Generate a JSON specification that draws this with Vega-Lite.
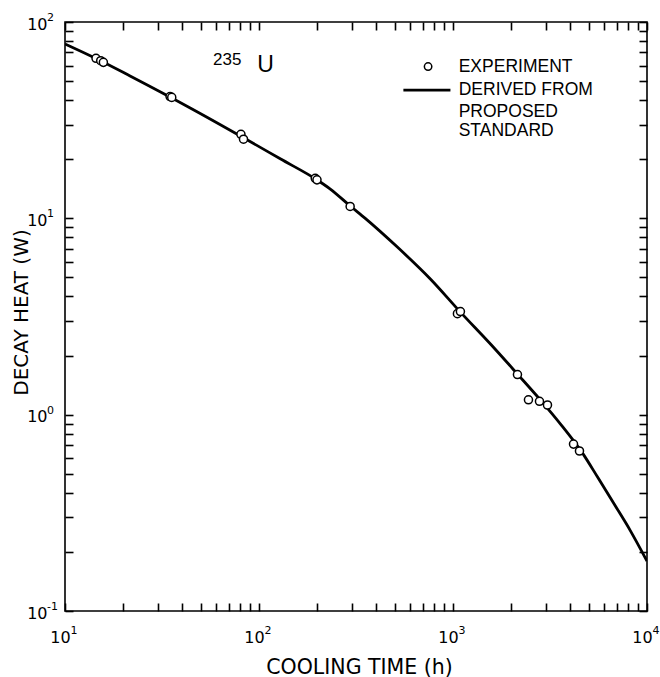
{
  "$schema": "https://vega.github.io/schema/vega-lite/v6.json",
  "width": 582,
  "height": 589,
  "autosize": {"type": "none"},
  "padding": {"left": 65, "top": 22, "right": 13, "bottom": 66},
  "background": "white",
  "view": {"stroke": "black", "strokeWidth": 1.6},
  "datasets": {
    "curve": [
      {"t": 10, "q": 77.3}, {"t": 14.63, "q": 64.8}, {"t": 21.65, "q": 53.1}, {"t": 44.2, "q": 36.5},
      {"t": 81.9, "q": 25.96}, {"t": 128.7, "q": 20.1}, {"t": 199.7, "q": 15.67}, {"t": 233.1, "q": 14.1},
      {"t": 295.5, "q": 11.55}, {"t": 353, "q": 10.0}, {"t": 516.6, "q": 7.14}, {"t": 764.4, "q": 4.91}, {"t": 1092, "q": 3.33},
      {"t": 1560, "q": 2.29}, {"t": 2149, "q": 1.61}, {"t": 2825, "q": 1.187}, {"t": 3583, "q": 0.896},
      {"t": 4653, "q": 0.637}, {"t": 5561, "q": 0.481}, {"t": 6724, "q": 0.3546}, {"t": 8230, "q": 0.2553},
      {"t": 10000, "q": 0.1795}
    ],
    "experiment": [
      {"t": 14.45, "q": 65.3}, {"t": 15.28, "q": 63.5}, {"t": 15.77, "q": 62.3},
      {"t": 34.8, "q": 41.7}, {"t": 35.5, "q": 41.3},
      {"t": 80.7, "q": 26.8}, {"t": 83.2, "q": 25.3},
      {"t": 195, "q": 16.0}, {"t": 199, "q": 15.7},
      {"t": 295, "q": 11.5},
      {"t": 1054, "q": 3.27}, {"t": 1092, "q": 3.35},
      {"t": 2149, "q": 1.60}, {"t": 2449, "q": 1.19}, {"t": 2791, "q": 1.17}, {"t": 3069, "q": 1.12},
      {"t": 4180, "q": 0.708}, {"t": 4487, "q": 0.653}
    ],
    "xexp": [{"v": 10, "e": "1"}, {"v": 100, "e": "2"}, {"v": 1000, "e": "3"}, {"v": 10000, "e": "4"}],
    "yexp": [{"v": 0.1, "e": "-1"}, {"v": 1, "e": "0"}, {"v": 10, "e": "1"}, {"v": 100, "e": "2"}],
    "one": [{}]
  },
  "config": {
    "axis": {
      "domain": false,
      "labelColor": "black", "labelFont": "DejaVu Sans", "labelFontSize": 16,
      "titleColor": "black", "titleFont": "DejaVu Sans", "titleFontWeight": "normal",
      "grid": false, "labelOverlap": false, "labelFlush": false, "labelBound": false
    }
  },
  "resolve": {"axis": {"x": "independent", "y": "independent"}},
  "layer": [
    {
      "data": {"name": "curve"},
      "mark": {"type": "line", "color": "black", "strokeWidth": 2.8, "interpolate": "monotone", "clip": true},
      "encoding": {
        "x": {
          "field": "t", "type": "quantitative",
          "scale": {"type": "log", "domain": [10, 10000], "nice": false},
          "axis": {
            "orient": "bottom", "tickSize": 8, "offset": -8, "tickColor": "black", "tickWidth": 1.6,
            "title": "COOLING TIME (h)", "titleFontSize": 20.5, "titleX": 294, "titleY": 64, "titleBaseline": "middle", "titleAnchor": null,
            "values": [10,20,30,40,50,60,70,80,90,100,200,300,400,500,600,700,800,900,1000,2000,3000,4000,5000,6000,7000,8000,9000,10000],
            "labelPadding": 18, "labelOffset": -5,
            "labelExpr": "(datum.value==10||datum.value==100||datum.value==1000||datum.value==10000)?'10':''"
          }
        },
        "y": {
          "field": "q", "type": "quantitative",
          "scale": {"type": "log", "domain": [0.1, 100], "nice": false},
          "axis": {
            "orient": "left", "tickSize": 8, "offset": -8, "tickColor": "black", "tickWidth": 1.6,
            "title": "DECAY HEAT (W)", "titleFontSize": 20, "titleX": -52, "titleY": 290, "titleBaseline": "middle", "titleAngle": -90, "titleAnchor": null,
            "values": [0.1,0.2,0.3,0.4,0.5,0.6,0.7,0.8,0.9,1,2,3,4,5,6,7,8,9,10,20,30,40,50,60,70,80,90,100],
            "labelPadding": 18, "labelOffset": 2, "labelBaseline": "middle",
            "labelExpr": "(datum.value==0.1||datum.value==1||datum.value==10||datum.value==100)?'10':''"
          }
        }
      }
    },
    {
      "data": {"name": "experiment"},
      "mark": {"type": "point", "shape": "circle", "filled": false, "fill": "white", "fillOpacity": 1, "stroke": "black", "strokeWidth": 1.5, "size": 65, "opacity": 1},
      "encoding": {
        "x": {
          "field": "t", "type": "quantitative",
          "axis": {"orient": "top", "title": null, "labels": false, "tickSize": 8, "offset": -8, "tickColor": "black", "tickWidth": 1.6,
            "values": [10,20,30,40,50,60,70,80,90,100,200,300,400,500,600,700,800,900,1000,2000,3000,4000,5000,6000,7000,8000,9000,10000]}
        },
        "y": {
          "field": "q", "type": "quantitative",
          "axis": {"orient": "right", "title": null, "labels": false, "tickSize": 8, "offset": -8, "tickColor": "black", "tickWidth": 1.6,
            "values": [0.1,0.2,0.3,0.4,0.5,0.6,0.7,0.8,0.9,1,2,3,4,5,6,7,8,9,10,20,30,40,50,60,70,80,90,100]}
        }
      }
    },
    {
      "data": {"name": "xexp"},
      "mark": {"type": "text", "align": "center", "baseline": "top", "font": "DejaVu Sans", "fontSize": 11, "color": "black", "dx": 9, "dy": 14},
      "encoding": {
        "x": {"field": "v", "type": "quantitative", "axis": null},
        "y": {"datum": 0.1, "type": "quantitative", "axis": null},
        "text": {"field": "e"}
      }
    },
    {
      "data": {"name": "yexp"},
      "mark": {"type": "text", "align": "left", "baseline": "middle", "font": "DejaVu Sans", "fontSize": 11, "color": "black", "dx": -18, "dy": -4},
      "encoding": {
        "x": {"datum": 10, "type": "quantitative", "axis": null},
        "y": {"field": "v", "type": "quantitative", "axis": null},
        "text": {"field": "e"}
      }
    },
    {
      "data": {"name": "one"},
      "mark": {"type": "point", "shape": "circle", "filled": false, "stroke": "black", "strokeWidth": 1.5, "size": 55, "opacity": 1},
      "encoding": {
        "x": {"datum": 744, "type": "quantitative", "axis": null},
        "y": {"datum": 59.3, "type": "quantitative", "axis": null}
      }
    },
    {
      "data": {"name": "one"},
      "mark": {"type": "rule", "color": "black", "strokeWidth": 2.8},
      "encoding": {
        "x": {"datum": 555, "type": "quantitative", "axis": null},
        "x2": {"datum": 970},
        "y": {"datum": 45, "type": "quantitative", "axis": null}
      }
    },
    {
      "data": {"name": "one"},
      "mark": {"type": "text", "align": "left", "baseline": "middle", "font": "Liberation Sans", "fontSize": 17.5, "color": "black"},
      "encoding": {
        "x": {"datum": 1070, "type": "quantitative", "axis": null},
        "y": {"datum": 59.3, "type": "quantitative", "axis": null},
        "text": {"value": "EXPERIMENT"}
      }
    },
    {
      "data": {"name": "one"},
      "mark": {"type": "text", "align": "left", "baseline": "middle", "font": "Liberation Sans", "fontSize": 17.5, "color": "black"},
      "encoding": {
        "x": {"datum": 1070, "type": "quantitative", "axis": null},
        "y": {"datum": 45, "type": "quantitative", "axis": null},
        "text": {"value": "DERIVED FROM"}
      }
    },
    {
      "data": {"name": "one"},
      "mark": {"type": "text", "align": "left", "baseline": "middle", "font": "Liberation Sans", "fontSize": 17.5, "color": "black"},
      "encoding": {
        "x": {"datum": 1070, "type": "quantitative", "axis": null},
        "y": {"datum": 34.8, "type": "quantitative", "axis": null},
        "text": {"value": "PROPOSED"}
      }
    },
    {
      "data": {"name": "one"},
      "mark": {"type": "text", "align": "left", "baseline": "middle", "font": "Liberation Sans", "fontSize": 17.5, "color": "black"},
      "encoding": {
        "x": {"datum": 1070, "type": "quantitative", "axis": null},
        "y": {"datum": 27.9, "type": "quantitative", "axis": null},
        "text": {"value": "STANDARD"}
      }
    },
    {
      "data": {"name": "one"},
      "mark": {"type": "text", "align": "left", "baseline": "alphabetic", "font": "Liberation Sans", "fontSize": 17, "color": "black"},
      "encoding": {
        "x": {"datum": 58, "type": "quantitative", "axis": null},
        "y": {"datum": 60.4, "type": "quantitative", "axis": null},
        "text": {"value": "235"}
      }
    },
    {
      "data": {"name": "one"},
      "mark": {"type": "text", "align": "left", "baseline": "alphabetic", "font": "Liberation Sans", "fontSize": 23, "color": "black"},
      "encoding": {
        "x": {"datum": 97.9, "type": "quantitative", "axis": null},
        "y": {"datum": 55.6, "type": "quantitative", "axis": null},
        "text": {"value": "U"}
      }
    }
  ]
}
